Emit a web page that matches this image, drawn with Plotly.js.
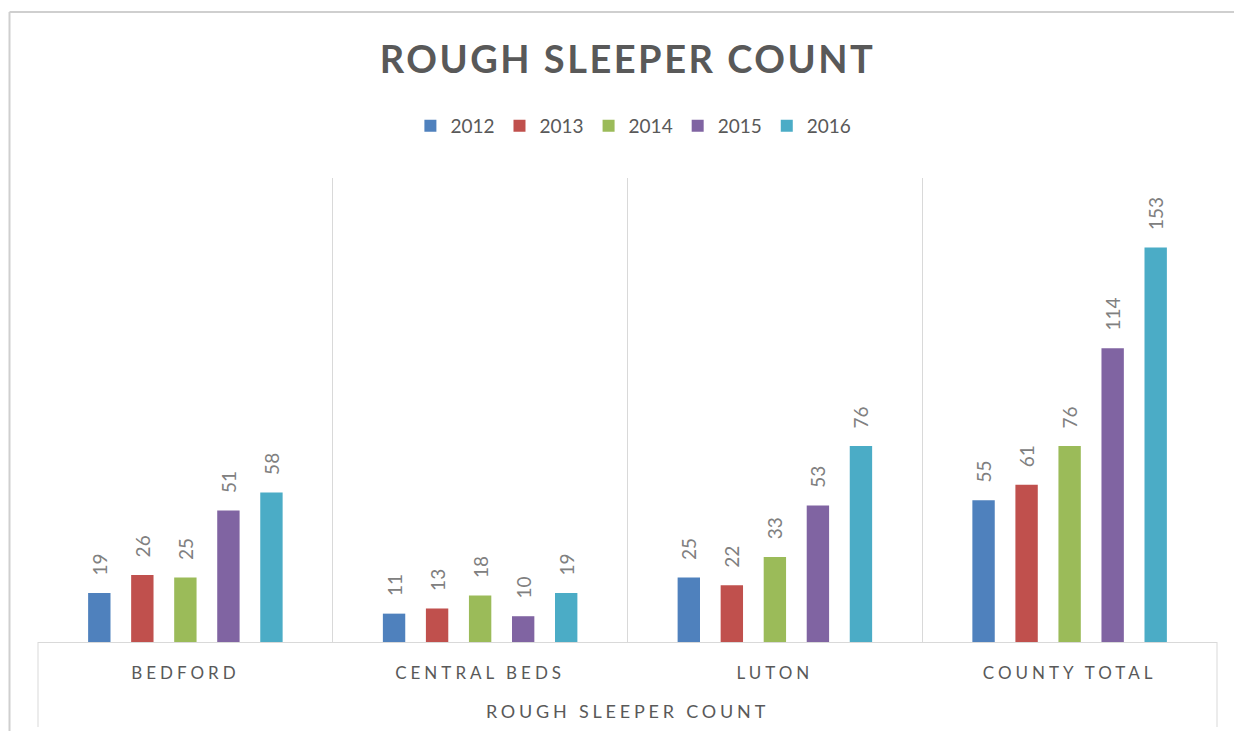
<!DOCTYPE html>
<html>
<head>
<meta charset="utf-8">
<script src="https://cdn.plot.ly/plotly-3.0.1.min.js"></script>
<style>
  html, body { margin: 0; padding: 0; background: #fff; }
  #chart { width: 1234px; height: 731px; }
  .gtitle { letter-spacing: 2.5px; }
  .xtick text { letter-spacing: 4px; }
  .xtitle { letter-spacing: 3.8px; }
</style>
</head>
<body>
<div id="chart"></div>
<script>
const categories = ['BEDFORD', 'CENTRAL BEDS', 'LUTON', 'COUNTY TOTAL'];
const years = ['2012', '2013', '2014', '2015', '2016'];
const v2012 = [19, 11, 25, 55];
const v2013 = [26, 13, 22, 61];
const v2014 = [25, 18, 33, 76];
const v2015 = [51, 10, 53, 114];
const v2016 = [58, 19, 76, 153];
const seriesValues = [v2012, v2013, v2014, v2015, v2016];
const colors = ['#4F81BD', '#C0504D', '#9BBB59', '#8064A2', '#4BACC6'];

const FONT = 'Lato, "Open Sans", sans-serif';
const GRAY = '#595959';

const traces = years.map((yr, i) => ({
  type: 'bar',
  name: yr,
  x: categories,
  y: seriesValues[i],
  marker: { color: colors[i] },
  text: seriesValues[i].map(String),
  texttemplate: '\u00a0\u00a0\u00a0%{text}',
  textposition: 'outside',
  textangle: -90,
  constraintext: 'none',
  cliponaxis: false,
  textfont: { family: FONT, size: 19, color: '#808080' },
  hoverinfo: 'x+y+name'
}));

const L = 38, R = 17, T = 178, B = 89;
const plotW = 1234 - L - R, plotH = 731 - T - B;
const px = xp => (xp - L) / plotW;
const py = yp => (731 - B - yp) / plotH;

const layout = {
  width: 1234,
  height: 731,
  margin: { l: L, r: R, t: T, b: B, pad: 0 },
  paper_bgcolor: '#ffffff',
  plot_bgcolor: '#ffffff',
  font: { family: FONT, color: GRAY },
  title: {
    text: '<b>ROUGH SLEEPER COUNT</b>',
    font: { family: FONT, size: 38, color: GRAY },
    x: 0.5, xref: 'paper', xanchor: 'center',
    y: 1 - 60 / 731, yref: 'container', yanchor: 'middle'
  },
  showlegend: true,
  legend: {
    orientation: 'h',
    x: 0.505, xanchor: 'center',
    y: py(126), yanchor: 'middle',
    font: { family: FONT, size: 19, color: GRAY },
    itemwidth: 30,
    traceorder: 'normal'
  },
  barmode: 'group',
  bargap: 0.27,
  bargroupgap: 0.48,
  xaxis: {
    type: 'category',
    tickson: 'boundaries',
    showgrid: true,
    gridcolor: '#d9d9d9',
    gridwidth: 1,
    ticks: '',
    showline: true,
    linecolor: '#d9d9d9',
    linewidth: 1,
    tickfont: { family: FONT, size: 17, color: GRAY },
    ticklabelstandoff: 16,
    title: {
      text: 'ROUGH SLEEPER COUNT',
      font: { family: FONT, size: 18, color: GRAY },
      standoff: 22
    },
    fixedrange: true
  },
  yaxis: {
    range: [0, 180],
    showgrid: false,
    zeroline: false,
    showticklabels: false,
    ticks: '',
    showline: false,
    fixedrange: true
  },
  shapes: [
    { type: 'line', xref: 'paper', yref: 'paper', x0: 0, x1: 0, y0: 0, y1: py(727), line: { color: '#d9d9d9', width: 1 } },
    { type: 'line', xref: 'paper', yref: 'paper', x0: 1, x1: 1, y0: 0, y1: py(727), line: { color: '#d9d9d9', width: 1 } },
    { type: 'line', xref: 'paper', yref: 'paper', x0: px(9.5), x1: px(9.5), y0: py(12), y1: py(731), line: { color: '#cfcfcf', width: 2 } },
    { type: 'line', xref: 'paper', yref: 'paper', x0: px(9.5), x1: px(1234), y0: py(12), y1: py(12), line: { color: '#cfcfcf', width: 2 } }
  ]
};

Plotly.newPlot('chart', traces, layout, { displayModeBar: false, staticPlot: true });
</script>
</body>
</html>
